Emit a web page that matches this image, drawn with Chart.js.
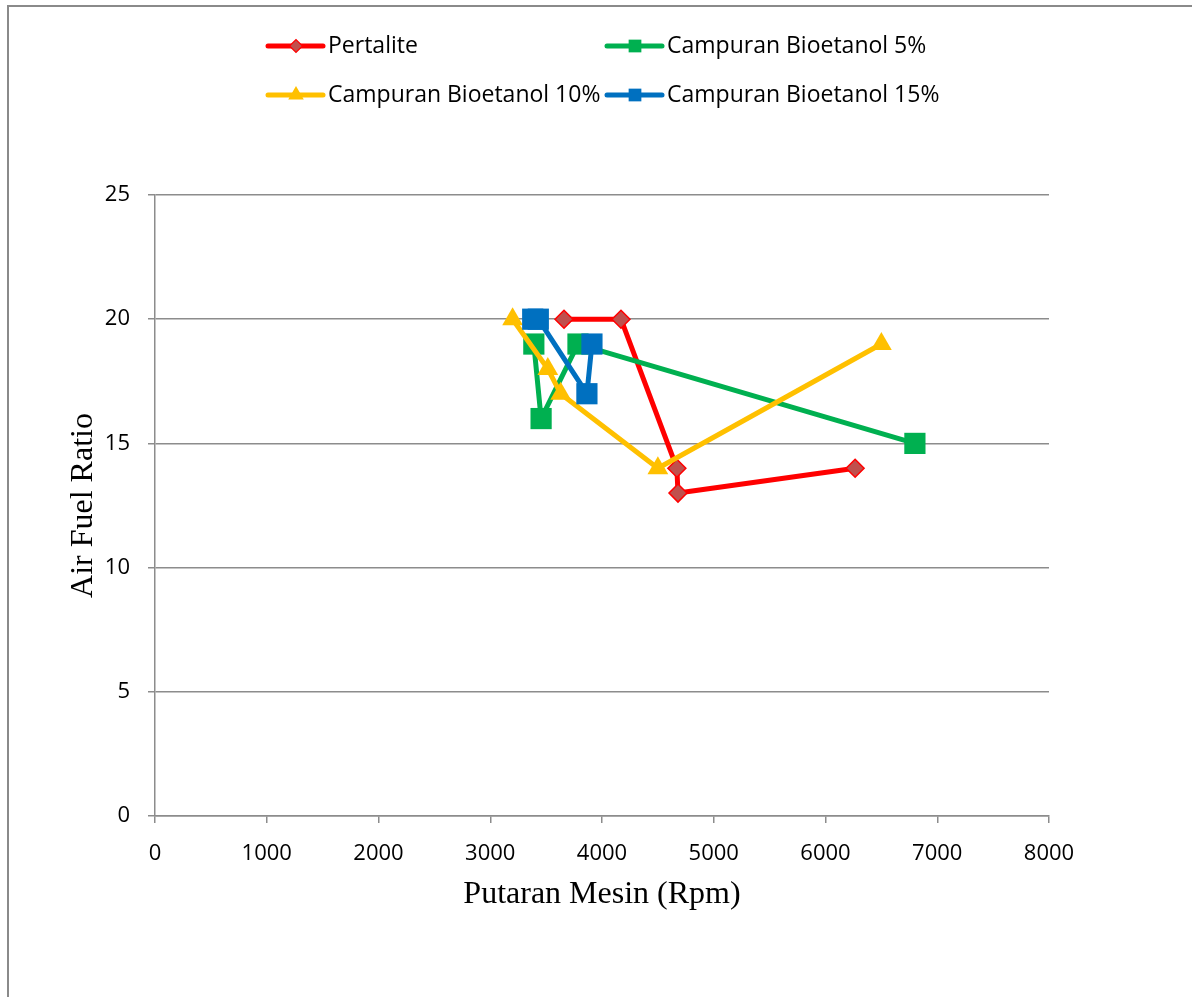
<!DOCTYPE html>
<html>
<head>
<meta charset="utf-8">
<script src="https://cdn.jsdelivr.net/npm/chart.js@4.4.1/dist/chart.umd.min.js"></script>
<style>
  html, body { margin: 0; padding: 0; background: #fff; }
  #wrap { width: 1192px; height: 997px; position: relative; }
  canvas { display: block; }
</style>
</head>
<body>
<div id="wrap"><canvas id="afr" width="1192" height="997"></canvas></div>
<script>
// Engine speed (rpm) and air-fuel ratio per fuel blend
const seriesNames = ['Pertalite', 'Campuran Bioetanol 5%', 'Campuran Bioetanol 10%', 'Campuran Bioetanol 15%'];

const rpmPertalite = [3660, 4170, 4670, 4680, 6265];
const afrPertalite = [20, 20, 14, 13, 14];

const rpmBio5 = [3390, 3455, 3785, 6800];
const afrBio5 = [19, 16, 19, 15];

const rpmBio10 = [3200, 3515, 3630, 4500, 6500];
const afrBio10 = [20, 18, 17, 14, 19];

const rpmBio15 = [3380, 3430, 3865, 3910];
const afrBio15 = [20, 20, 17, 19];

const xTickValues = [0, 1000, 2000, 3000, 4000, 5000, 6000, 7000, 8000];
const yTickValues = [0, 5, 10, 15, 20, 25];

const xTitle = 'Putaran Mesin (Rpm)';
const yTitle = 'Air Fuel Ratio';

const toPoints = (xs, ys) => xs.map((x, i) => ({ x: x, y: ys[i] }));

const GRID = '#8c8c8c';
const TICK_FONT = { family: 'Open Sans', size: 22 };
const TITLE_FONT = { family: 'Liberation Serif', size: 32 };

const styles = [
  { color: '#FF0000', fill: '#C0504D', shape: 'rectRot', r: 9, lr: 6.5 },
  { color: '#00B050', fill: '#00B050', shape: 'rect', r: 15, lr: 9 },
  { color: '#FFC000', fill: '#FFC000', shape: 'triangle', r: 12, lr: 9 },
  { color: '#0070C0', fill: '#0070C0', shape: 'rect', r: 15, lr: 9 }
];

const seriesData = [
  toPoints(rpmPertalite, afrPertalite),
  toPoints(rpmBio5, afrBio5),
  toPoints(rpmBio10, afrBio10),
  toPoints(rpmBio15, afrBio15)
];

const datasets = seriesData.map((pts, i) => ({
  label: seriesNames[i],
  data: pts,
  showLine: true,
  borderColor: styles[i].color,
  backgroundColor: styles[i].fill,
  borderWidth: 5,
  pointStyle: styles[i].shape,
  pointRadius: styles[i].r,
  pointHoverRadius: styles[i].r,
  pointBorderWidth: i === 0 ? 1.5 : 0,
  pointBorderColor: styles[i].color,
  pointBackgroundColor: styles[i].fill,
  borderJoinStyle: 'round',
  borderCapStyle: 'round',
  order: 4 - i
}));

function drawShape(ctx, shape, x, y, r) {
  if (shape === 'rectRot') {
    ctx.moveTo(x - r, y); ctx.lineTo(x, y - r); ctx.lineTo(x + r, y); ctx.lineTo(x, y + r); ctx.closePath();
  } else if (shape === 'rect') {
    const s = Math.SQRT1_2 * r;
    ctx.rect(x - s, y - s, 2 * s, 2 * s);
  } else {
    const h = Math.sqrt(3) / 2 * r;
    ctx.moveTo(x, y - r); ctx.lineTo(x + h, y + r / 2); ctx.lineTo(x - h, y + r / 2); ctx.closePath();
  }
}

// Outer frame (top and left edges) and the two-column legend
const framePlugin = {
  id: 'frameAndLegend',
  beforeDraw(chart) {
    const ctx = chart.ctx;
    ctx.save();
    ctx.fillStyle = '#fff';
    ctx.fillRect(0, 0, chart.width, chart.height);
    ctx.strokeStyle = '#8a8a8a';
    ctx.lineWidth = 2;
    ctx.beginPath();
    ctx.moveTo(8, chart.height + 2);
    ctx.lineTo(8, 6);
    ctx.lineTo(chart.width + 2, 6);
    ctx.stroke();
    ctx.restore();
  },
  afterDraw(chart) {
    const ctx = chart.ctx;
    const cols = [268, 607];
    const rows = [46, 95];
    ctx.save();
    ctx.font = '23px "Open Sans"';
    ctx.textBaseline = 'middle';
    seriesNames.forEach((name, i) => {
      const x0 = cols[i % 2];
      const y = rows[Math.floor(i / 2)];
      const st = styles[i];
      ctx.strokeStyle = st.color;
      ctx.lineWidth = 5;
      ctx.lineCap = 'round';
      ctx.beginPath();
      ctx.moveTo(x0, y);
      ctx.lineTo(x0 + 55, y);
      ctx.stroke();
      ctx.fillStyle = st.fill;
      ctx.strokeStyle = st.color;
      ctx.lineWidth = 1.2;
      ctx.beginPath();
      drawShape(ctx, st.shape, x0 + 28, y, st.lr);
      ctx.fill();
      if (i === 0) ctx.stroke();
      ctx.fillStyle = '#000';
      ctx.fillText(name, x0 + 60, y);
    });
    ctx.restore();
  }
};

new Chart(document.getElementById('afr'), {
  type: 'scatter',
  data: { datasets },
  plugins: [framePlugin],
  options: {
    responsive: false,
    animation: false,
    devicePixelRatio: 1,
    layout: { padding: { left: 60, top: 195, right: 143, bottom: 0 } },
    plugins: { legend: { display: false }, tooltip: { enabled: false } },
    scales: {
      x: {
        type: 'linear',
        min: xTickValues[0],
        max: xTickValues[xTickValues.length - 1],
        afterBuildTicks(scale) { scale.ticks = xTickValues.map(v => ({ value: v })); },
        afterFit(scale) { scale.height = 181; },
        grid: { drawOnChartArea: false, drawTicks: true, tickLength: 7, color: GRID, lineWidth: 1.5 },
        border: { display: true, color: GRID, width: 1.5 },
        ticks: { color: '#000', font: TICK_FONT, padding: 18, maxRotation: 0, callback: v => String(v) },
        title: { display: true, text: xTitle, color: '#000', font: TITLE_FONT, padding: { top: 0, bottom: 83 } }
      },
      y: {
        type: 'linear',
        min: yTickValues[0],
        max: yTickValues[yTickValues.length - 1],
        afterBuildTicks(scale) { scale.ticks = yTickValues.map(v => ({ value: v })); },
        afterFit(scale) { scale.width = 95; },
        grid: { drawOnChartArea: true, drawTicks: true, tickLength: 7, color: GRID, lineWidth: 1.5 },
        border: { display: true, color: GRID, width: 1.5 },
        ticks: { color: '#000', font: TICK_FONT, padding: 18, callback: v => String(v) },
        title: { display: true, text: yTitle, color: '#000', font: TITLE_FONT, padding: { top: 4, bottom: 0 } }
      }
    }
  }
});
</script>
</body>
</html>
